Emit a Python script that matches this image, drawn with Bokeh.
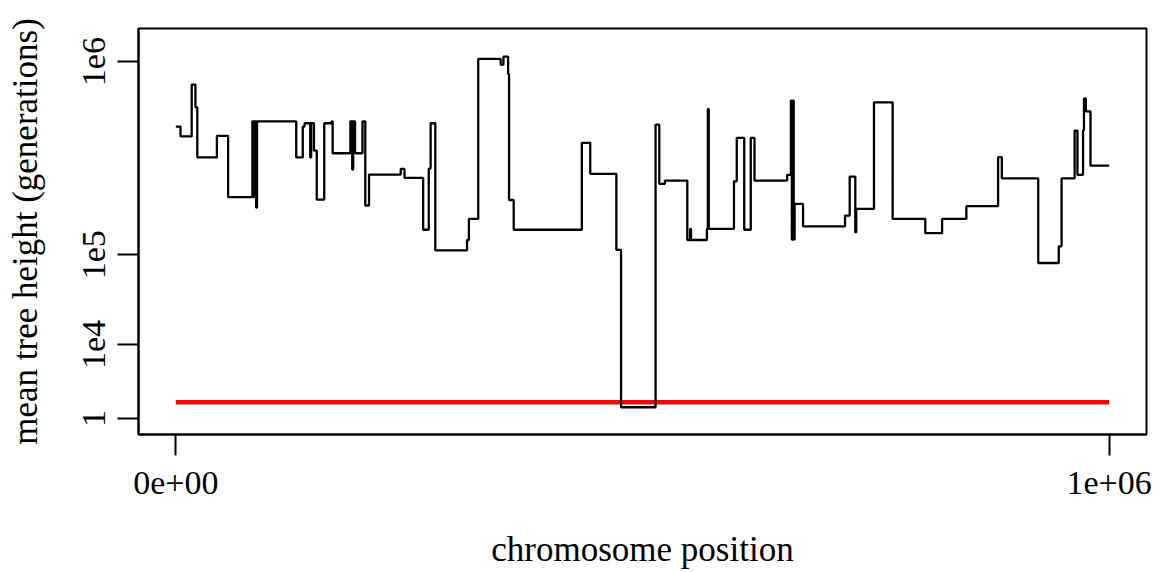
import numpy as np
from bokeh.plotting import figure
from bokeh.models import Range1d, FixedTicker, CustomJSTickFormatter
from bokeh.embed import file_html
from bokeh.resources import INLINE

# chromosome position where each segment starts
seg_start = [0, 5000, 17000, 21000, 23000, 44000, 56000, 82000, 83000, 84000,
             86000, 87000, 129000, 136000, 138000, 144000, 145000, 148000, 151000, 159000,
             167000, 168000, 187000, 189000, 190000, 192000, 200000, 203000, 207000, 241000,
             245000, 265000, 271000, 273000, 278000, 312000, 314000, 324000, 348000, 351000,
             356000, 357000, 362000, 435000, 444000, 472000, 477000, 514000, 518000, 524000,
             548000, 551000, 552000, 569000, 570000, 571000, 598000, 601000, 609000, 616000,
             620000, 655000, 659000, 660000, 661000, 662000, 663000, 672000, 717000, 722000,
             728000, 729000, 748000, 768000, 803000, 821000, 847000, 881000, 885000, 924000,
             946000, 949000, 963000, 966000, 972000, 973000, 975000, 980000]
# mean tree height (generations) of each segment
seg_height = [551000, 498000, 821000, 666000, 396000, 501000, 243000, 581000, 243000, 581000,
              211000, 581000, 396000, 551000, 570000, 396000, 570000, 427000, 235000, 570000,
              581000, 415000, 581000, 344000, 581000, 415000, 581000, 217000, 324000, 347000,
              311000, 152000, 348000, 570000, 108000, 129000, 179000, 1023000, 975000, 1042000,
              901000, 234000, 152000, 465000, 327000, 109000, 70, 562000, 289000, 301000,
              129000, 154000, 129000, 154000, 656000, 154000, 298000, 490000, 152000, 490000,
              301000, 323000, 710000, 130000, 710000, 130000, 222000, 160000, 188000, 316000,
              146000, 207000, 698000, 179000, 144000, 179000, 215000, 397000, 309000, 86000,
              116000, 309000, 529000, 323000, 529000, 725000, 641000, 360000]
chrom_end = 1000000
ref_level = 170  # red reference line

x_tick_values = [0, 1000000]
x_tick_labels = ["0e+00", "1e+06"]
y_tick_values = [1, 1e4, 1e5, 1e6]
y_tick_labels = ["1", "1e4", "1e5", "1e6"]

# cube-root scale on the y axis
xs = seg_start + [chrom_end]
ys = list(np.cbrt(np.array(seg_height + [seg_height[-1]], dtype=float)))

FONT = "Liberation Serif"

p = figure(frame_width=1008, frame_height=406, output_backend="svg", toolbar_location=None,
           x_range=Range1d(-40000, 1040000), y_range=Range1d(-3.44, 109.2),
           min_border_left=138, min_border_top=28, min_border_right=14, min_border_bottom=130)
p.background_fill_color = "white"
p.border_fill_color = "white"
p.grid.visible = False
p.outline_line_color = "black"
p.outline_line_width = 2

p.line([seg_start[0], chrom_end], [float(np.cbrt(ref_level))] * 2, line_color="#FF0000", line_width=4.5)
p.step(xs, ys, mode="after", line_color="black", line_width=2.3)

fmt_code = """
for (let i = 0; i < vals.length; i++) { if (Math.abs(vals[i] - tick) < 1e-3) return labs[i]; }
return '';
"""
p.xaxis.ticker = FixedTicker(ticks=x_tick_values)
p.xaxis.formatter = CustomJSTickFormatter(args=dict(vals=x_tick_values, labs=x_tick_labels), code=fmt_code)
y_tick_pos = [float(v) for v in np.cbrt(np.array(y_tick_values))]
p.yaxis.ticker = FixedTicker(ticks=y_tick_pos)
p.yaxis.formatter = CustomJSTickFormatter(args=dict(vals=y_tick_pos, labs=y_tick_labels), code=fmt_code)
p.yaxis.major_label_orientation = "vertical"

for ax in (p.xaxis[0], p.yaxis[0]):
    ax.axis_line_color = "black"
    ax.axis_line_width = 2
    ax.major_tick_line_color = "black"
    ax.major_tick_line_width = 2
    ax.major_tick_out = 21
    ax.major_tick_in = 0
    ax.minor_tick_out = 0
    ax.minor_tick_in = 0
    ax.major_label_text_font = FONT
    ax.major_label_text_font_size = "34px"
    ax.major_label_text_color = "black"
    ax.axis_label_text_font = FONT
    ax.axis_label_text_font_size = "35px"
    ax.axis_label_text_font_style = "normal"
    ax.axis_label_text_color = "black"

p.xaxis.axis_label = "chromosome position"
p.yaxis.axis_label = "mean tree height (generations)"
p.xaxis.major_label_standoff = 16
p.xaxis.axis_label_standoff = 33
p.yaxis.major_label_standoff = 12
p.yaxis.axis_label_standoff = 36

open("out.html", "w").write(file_html(p, INLINE))
